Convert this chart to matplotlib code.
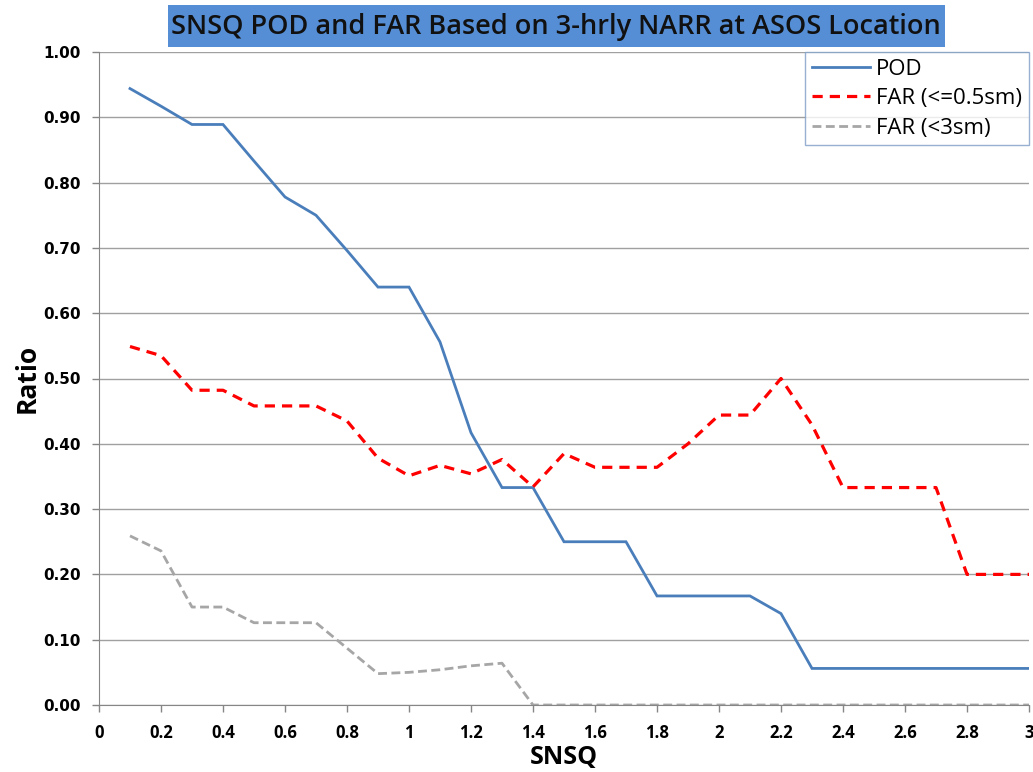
import matplotlib
matplotlib.use("Agg")
import matplotlib.pyplot as plt
from matplotlib.patches import Rectangle

snsq = [0.1, 0.2, 0.3, 0.4, 0.5, 0.6, 0.7, 0.8, 0.9, 1.0,
        1.1, 1.2, 1.3, 1.4, 1.5, 1.6, 1.7, 1.8, 1.9, 2.0,
        2.1, 2.2, 2.3, 2.4, 2.5, 2.6, 2.7, 2.8, 2.9, 3.0]
pod = [0.944, 0.917, 0.889, 0.889, 0.833, 0.778, 0.750, 0.696, 0.640, 0.640,
       0.556, 0.417, 0.333, 0.333, 0.250, 0.250, 0.250, 0.167, 0.167, 0.167,
       0.167, 0.140, 0.056, 0.056, 0.056, 0.056, 0.056, 0.056, 0.056, 0.056]
far_05 = [0.549, 0.535, 0.482, 0.482, 0.458, 0.458, 0.458, 0.435, 0.378, 0.351,
          0.367, 0.354, 0.376, 0.334, 0.385, 0.364, 0.364, 0.364, 0.400, 0.444,
          0.444, 0.500, 0.429, 0.333, 0.333, 0.333, 0.333, 0.200, 0.200, 0.200]
far_3 = [0.259, 0.236, 0.150, 0.150, 0.126, 0.126, 0.126, 0.087, 0.048, 0.050,
         0.054, 0.060, 0.064, 0.0, 0.0, 0.0, 0.0, 0.0, 0.0, 0.0,
         0.0, 0.0, 0.0, 0.0, 0.0, 0.0, 0.0, 0.0, 0.0, 0.0]

x_ticks = [0, 0.2, 0.4, 0.6, 0.8, 1.0, 1.2, 1.4, 1.6, 1.8, 2.0, 2.2, 2.4, 2.6, 2.8, 3.0]
x_labels = ["0", "0.2", "0.4", "0.6", "0.8", "1", "1.2", "1.4", "1.6", "1.8",
            "2", "2.2", "2.4", "2.6", "2.8", "3"]
y_ticks = [0.0, 0.1, 0.2, 0.3, 0.4, 0.5, 0.6, 0.7, 0.8, 0.9, 1.0]
y_labels = ["0.00", "0.10", "0.20", "0.30", "0.40", "0.50", "0.60", "0.70",
            "0.80", "0.90", "1.00"]

W, H = 1033, 772
fig = plt.figure(figsize=(W / 100, H / 100), dpi=100)
ax = fig.add_axes([99 / W, (H - 705) / H, (1029 - 99) / W, (705 - 52) / H])

ax.plot(snsq, pod, color="#4A7EBB", lw=2.0, label="POD", solid_joinstyle="miter")
ax.plot(snsq, far_05, color="#FF0000", lw=2.3, ls=(0, (3.2, 2.2)), label="FAR (<=0.5sm)")
ax.plot(snsq, far_3, color="#A6A6A6", lw=2.0, ls=(0, (3.2, 1.6)), label="FAR (<3sm)")

ax.set_xlim(0, 3)
ax.set_ylim(0, 1.0)
ax.set_xticks(x_ticks)
ax.set_xticklabels(x_labels, fontsize=12, fontweight="bold", family="Open Sans")
ax.set_yticks(y_ticks)
ax.set_yticklabels(y_labels, fontsize=11, fontweight="bold", family="DejaVu Sans")
ax.yaxis.grid(True, color="#A0A0A0", lw=1.0)
ax.set_axisbelow(True)
for s in ["top", "right"]:
    ax.spines[s].set_visible(False)
for s in ["left", "bottom"]:
    ax.spines[s].set_color("#868686")
ax.tick_params(axis="both", direction="out", length=5, color="#868686", width=1)
ax.tick_params(axis="x", pad=9)
ax.tick_params(axis="y", pad=8)

ax.set_xlabel("SNSQ", fontsize=18, fontweight="bold", family="Open Sans", labelpad=2)
ax.set_ylabel("Ratio", fontsize=19, fontweight="bold", family="Open Sans", labelpad=2)

leg = ax.legend(loc="upper right", bbox_to_anchor=(1.0, 1.0),
                frameon=True, fancybox=False, handlelength=2.6, borderpad=0.3,
                labelspacing=0.38, handletextpad=0.3, borderaxespad=0.0,
                prop={"family": "Open Sans", "size": 16})
leg.get_frame().set_edgecolor("#7F9DC6")
leg.get_frame().set_linewidth(1.0)

fig.patches.append(Rectangle((168 / W, (H - 47) / H), (945 - 168) / W, 42 / H,
                             transform=fig.transFigure, facecolor="#558ED5",
                             edgecolor="none", zorder=0))
fig.text(556 / W, (H - 27) / H, "SNSQ POD and FAR Based on 3-hrly NARR at ASOS Location",
         ha="center", va="center", fontsize=19.5, fontweight="semibold",
         family="Open Sans", color="#111111")

fig.savefig("out.png", dpi=100)
